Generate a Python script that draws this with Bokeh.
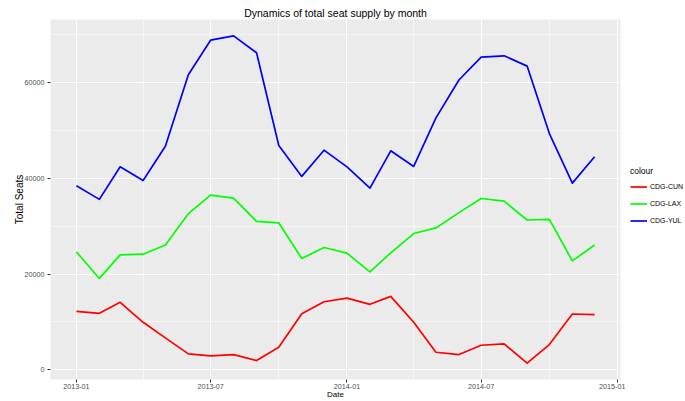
import pandas as pd
from bokeh.plotting import figure
from bokeh.layouts import row
from bokeh.models import (Range1d, FixedTicker, DatetimeTickFormatter, NumeralTickFormatter,
                          Legend, LegendItem)
from bokeh.embed import file_html
from bokeh.resources import INLINE

# ---------------- data ----------------
months = ["2013-01", "2013-02", "2013-03", "2013-04", "2013-05", "2013-06",
          "2013-07", "2013-08", "2013-09", "2013-10", "2013-11", "2013-12",
          "2014-01", "2014-02", "2014-03", "2014-04", "2014-05", "2014-06",
          "2014-07", "2014-08", "2014-09", "2014-10", "2014-11", "2014-12"]

cdg_cun = [12230, 11810, 14100, 9940, 6670, 3330, 2920, 3190, 1940, 4720, 11730, 14230,
           15000, 13690, 15350, 9940, 3680, 3190, 5140, 5420, 1400, 5280, 11670, 11530]
cdg_lax = [24650, 19100, 24020, 24170, 26100, 32640, 36520, 35900, 31040, 30690, 23270, 25560,
           24375, 20480, 24450, 28480, 29650, 32850, 35800, 35250, 31310, 31460, 22770, 26100]
cdg_yul = [38480, 35625, 42430, 39580, 46730, 61670, 68890, 69790, 66250, 46875, 40420, 45900,
           42400, 37980, 45770, 42500, 52640, 60560, 65350, 65625, 63470, 49375, 39020, 44520]

series_names = ["CDG-CUN", "CDG-LAX", "CDG-YUL"]
series_colors = ["#FF0000", "#00FF00", "#0000FF"]

x_tick_dates = ["2013-01-01", "2013-07-01", "2014-01-01", "2014-07-01", "2015-01-01"]
x_minor_dates = ["2013-04-01", "2013-10-01", "2014-04-01", "2014-10-01"]
y_ticks = [0, 20000, 40000, 60000]
y_minor = [10000, 30000, 50000, 70000]

title_text = "Dynamics of total seat supply by month"
x_title = "Date"
y_title = "Total Seats"
legend_title = "colour"

# ---------------- helpers ----------------
def to_ms(s):
    return pd.Timestamp(s).timestamp() * 1000.0

x_ms = [to_ms(m + "-01") for m in months]
series_vals = [cdg_cun, cdg_lax, cdg_yul]
all_vals = cdg_cun + cdg_lax + cdg_yul

xs, xe = min(x_ms), max(x_ms)
xspan = xe - xs
ys, ye = min(all_vals), max(all_vals)
yspan = ye - ys

FONT = "Liberation Sans"

W, H = 685, 401
WM = 625                      # main figure width
WL = W - WM                   # legend strip width
ML, MR, MT, MB = 50, 5, 19, 21

p = figure(width=WM, height=H, x_axis_type="datetime",
           x_range=Range1d(xs - 0.05 * xspan, xe + 0.05 * xspan),
           y_range=Range1d(ys - 0.05 * yspan, ye + 0.05 * yspan),
           output_backend="svg", toolbar_location=None,
           min_border_left=ML, min_border_right=MR, min_border_top=MT, min_border_bottom=MB)

p.background_fill_color = "#EBEBEB"
p.border_fill_color = "white"
p.outline_line_color = None

p.title.text = title_text
p.title.align = "center"
p.title.text_font = FONT
p.title.text_font_size = "10.5px"
p.title.text_font_style = "normal"
p.title.text_color = "black"
p.title.standoff = 2

p.xaxis.ticker = FixedTicker(ticks=[to_ms(d) for d in x_tick_dates],
                             minor_ticks=[to_ms(d) for d in x_minor_dates])
p.xaxis.formatter = DatetimeTickFormatter(years="%Y-%m", months="%Y-%m", days="%Y-%m",
                                          hours="%Y-%m", hourmin="%Y-%m")
p.yaxis.ticker = FixedTicker(ticks=y_ticks, minor_ticks=y_minor)
p.yaxis.formatter = NumeralTickFormatter(format="0")

for ax in (p.xaxis, p.yaxis):
    ax.axis_line_color = None
    ax.major_tick_line_color = "#333333"
    ax.major_tick_in = 0
    ax.major_tick_out = 3
    ax.minor_tick_line_color = None
    ax.major_label_text_font = FONT
    ax.major_label_text_font_size = "7.2px"
    ax.major_label_text_color = "#4D4D4D"
    ax.axis_label_text_font = FONT
    ax.axis_label_text_font_style = "normal"
    ax.axis_label_text_color = "black"

p.xaxis.axis_label = x_title
p.xaxis.axis_label_text_font_size = "8px"
p.xaxis.axis_label_standoff = -2
p.xaxis.major_label_standoff = 0

p.yaxis.axis_label = y_title
p.yaxis.axis_label_text_font_size = "10px"
p.yaxis.axis_label_standoff = -3
p.yaxis.major_label_standoff = 2

for g in (p.xgrid, p.ygrid):
    g.grid_line_color = "white"
    g.grid_line_width = 1.1
    g.minor_grid_line_color = "white"
    g.minor_grid_line_width = 0.55

for name, vals, col in zip(series_names, series_vals, series_colors):
    p.line(x_ms, vals, line_color=col, line_width=1.7, line_join="round")

# ---------------- legend strip ----------------
pl = figure(width=WL, height=H, x_range=Range1d(0, 1), y_range=Range1d(0, 1),
            x_axis_location=None, y_axis_location=None,
            output_backend="svg", toolbar_location=None,
            min_border_left=0, min_border_right=0, min_border_top=0, min_border_bottom=0)
pl.outline_line_color = None
pl.background_fill_color = "white"
pl.border_fill_color = "white"
pl.xgrid.visible = False
pl.ygrid.visible = False

items = []
for name, vals, col in zip(series_names, series_vals, series_colors):
    # same series, drawn far outside this strip's ranges: only its legend key shows
    r = pl.line(x_ms, vals, line_color=col, line_width=1.7)
    items.append(LegendItem(label=name, renderers=[r]))

legend = Legend(items=items, location=(5, H - 230 - 21), title=legend_title,
                title_text_font=FONT, title_text_font_size="8.5px", title_text_font_style="normal",
                title_text_color="black", title_standoff=2,
                label_text_font=FONT, label_text_font_size="7px", label_text_color="black",
                glyph_width=17, glyph_height=17, label_height=17, label_standoff=3,
                spacing=0, padding=0, margin=0,
                border_line_color=None, background_fill_color=None)
pl.add_layout(legend, "center")

layout = row(p, pl, spacing=0)

open("out.html", "w").write(file_html(layout, INLINE))
